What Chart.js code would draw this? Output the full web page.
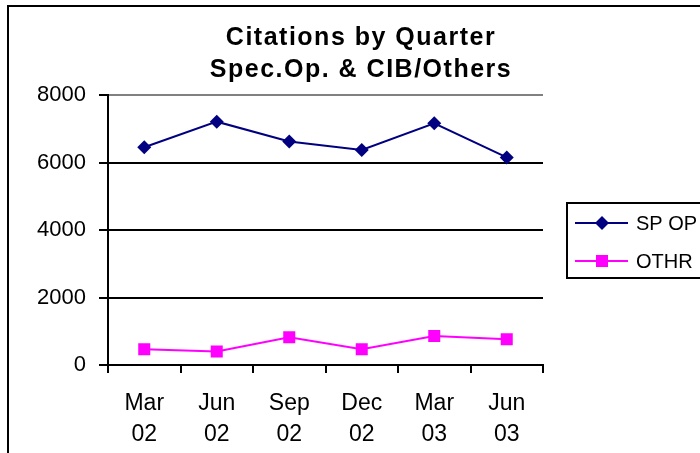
<!DOCTYPE html>
<html>
<head>
<meta charset="utf-8">
<script src="https://cdn.jsdelivr.net/npm/chart.js@4.4.0/dist/chart.umd.min.js"></script>
<style>
  html, body { margin: 0; padding: 0; background: #fff; }
</style>
</head>
<body>
<canvas id="myChart" width="700" height="453"></canvas>
<script>
const titleLines = ["Citations by Quarter", "Spec.Op. & CIB/Others"];
const quarters = [["Mar", "02"], ["Jun", "02"], ["Sep", "02"], ["Dec", "02"], ["Mar", "03"], ["Jun", "03"]];
const spOpValues = [6450, 7210, 6620, 6370, 7160, 6150];
const othrValues = [470, 400, 820, 470, 860, 760];
const yTicks = [0, 2000, 4000, 6000, 8000];

const FONT = '"Liberation Sans", Arial, sans-serif';
Chart.defaults.font.family = FONT;
Chart.defaults.color = "#000";

// outer frame, two-line title and the boxed legend on the right
const frameTitleLegend = {
  id: "frameTitleLegend",
  afterDraw(chart) {
    const ctx = chart.ctx;
    ctx.save();

    ctx.strokeStyle = "#000";
    ctx.lineWidth = 2;
    ctx.beginPath();
    ctx.moveTo(8, 470);
    ctx.lineTo(8, 6);
    ctx.lineTo(720, 6);
    ctx.stroke();

    ctx.fillStyle = "#000";
    ctx.font = "bold 25px " + FONT;
    ctx.textAlign = "center";
    ctx.textBaseline = "alphabetic";
    if ("letterSpacing" in ctx) ctx.letterSpacing = "1.5px";
    titleLines.forEach((line, i) => ctx.fillText(line, 361, 45 + i * 32));
    if ("letterSpacing" in ctx) ctx.letterSpacing = "0px";

    ctx.lineWidth = 2;
    ctx.strokeStyle = "#000";
    ctx.strokeRect(567, 203, 150, 75);

    ctx.font = "20px " + FONT;
    ctx.textAlign = "left";
    ctx.textBaseline = "middle";
    chart.data.datasets.forEach((ds, i) => {
      const y = 223 + i * 38;
      ctx.strokeStyle = ds.borderColor;
      ctx.lineWidth = 2;
      ctx.beginPath();
      ctx.moveTo(575, y);
      ctx.lineTo(628, y);
      ctx.stroke();
      ctx.fillStyle = ds.backgroundColor;
      ctx.beginPath();
      if (ds.pointStyle === "rectRot") {
        ctx.moveTo(602, y - 7);
        ctx.lineTo(609, y);
        ctx.lineTo(602, y + 7);
        ctx.lineTo(595, y);
      } else {
        ctx.rect(596, y - 6, 12, 12);
      }
      ctx.closePath();
      ctx.fill();
      ctx.fillStyle = "#000";
      ctx.fillText(ds.label, 636, y + 1);
    });

    ctx.restore();
  },
};

function drawChart() {
  const ctx = document.getElementById("myChart").getContext("2d");

  new Chart(ctx, {
    type: "line",
    data: {
      labels: quarters,
      datasets: [
        {
          label: "SP OP",
          data: spOpValues,
          borderColor: "#000080",
          backgroundColor: "#000080",
          borderWidth: 2,
          pointStyle: "rectRot",
          pointRadius: 7,
          pointBorderWidth: 0,
          tension: 0,
        },
        {
          label: "OTHR",
          data: othrValues,
          borderColor: "#FF00FF",
          backgroundColor: "#FF00FF",
          borderWidth: 2,
          pointStyle: "rect",
          pointRadius: 8.5,
          pointBorderWidth: 0,
          tension: 0,
        },
      ],
    },
    options: {
      responsive: false,
      animation: false,
      layout: {
        padding: { left: 0, top: 95, right: 157, bottom: 0 },
      },
      plugins: {
        legend: { display: false },
        title: { display: false },
        tooltip: { enabled: false },
      },
      scales: {
        x: {
          offset: true,
          grid: {
            offset: true,
            // only the right edge of the plot area is drawn (grey)
            color: (c) => (c.index === quarters.length ? "#808080" : "rgba(0,0,0,0)"),
            lineWidth: 2,
            tickColor: "#000",
            tickWidth: 2,
            tickLength: 8,
          },
          border: { color: "#000", width: 2 },
          ticks: {
            color: "#000",
            font: { size: 23, lineHeight: 1.35 },
            padding: 15,
            maxRotation: 0,
            autoSkip: false,
          },
          afterFit(scale) {
            scale.height = 88;
          },
        },
        y: {
          min: yTicks[0],
          max: yTicks[yTicks.length - 1],
          ticks: {
            stepSize: yTicks[1] - yTicks[0],
            color: "#000",
            font: { size: 22 },
            padding: 13,
            callback: (value) => String(value),
          },
          grid: {
            color: (c) => (c.tick && c.tick.value === yTicks[yTicks.length - 1] ? "#808080" : "#000"),
            lineWidth: 2,
            tickColor: "#000",
            tickWidth: 2,
            tickLength: 9,
          },
          border: { color: "#000", width: 2 },
          afterFit(scale) {
            scale.width = 108;
          },
        },
      },
    },
    plugins: [frameTitleLegend],
  });
}

drawChart();
</script>
</body>
</html>
